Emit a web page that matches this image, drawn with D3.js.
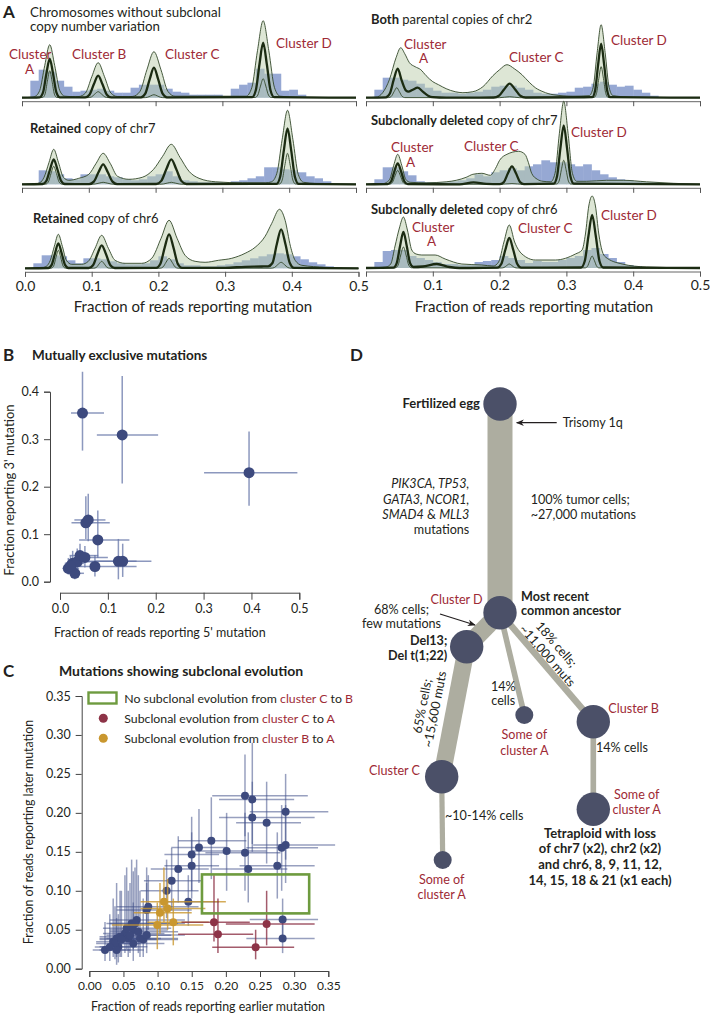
<!DOCTYPE html>
<html>
<head>
<meta charset="utf-8">
<script src="https://cdn.jsdelivr.net/npm/d3@7"></script>
<style>
  body { margin: 0; background: #fff; }
  svg { display: block; }
</style>
</head>
<body>
<svg id="fig" width="710" height="1015"></svg>
<script>
// ---- panel A : density knots [fraction, density] and histograms (bin width 0.0125) ----
const A_TICKS = [0, 0.1, 0.2, 0.3, 0.4, 0.5];
const BIN = 0.0125;

const L1_HIST = [0,17,28,26,17,11,6,7,8,9,7,5,5,10,13,13,13,9,6,5,3,3,3,3,1,9,13,15,29,24,24,7,8,3,0,0,0,0,0,0];
const L1_UP = [[0,0],[0.015,0.5],[0.019,1.1],[0.0265,7.2],[0.034,32],[0.0415,53],[0.049,32],[0.0565,7.2],[0.064,1.5],[0.08,1],[0.0855,1.2],[0.095,4.7],[0.1045,21],[0.114,35],[0.1235,21],[0.133,4.7],[0.1425,1.2],[0.16,1],[0.166,1.3],[0.1765,6.2],[0.187,28],[0.1975,46],[0.208,28],[0.2185,6.2],[0.229,1.5],[0.27,1.5],[0.3,1.5],[0.3355,1.5],[0.344,10],[0.3525,47],[0.361,77],[0.3695,47],[0.378,10],[0.3865,1.5],[0.41,0.5],[0.5,0]];
const L1_MED = [[0,0],[0.0265,0.4],[0.0315,5.3],[0.0365,24],[0.0415,39],[0.0465,24],[0.0515,5.3],[0.0565,0.4],[0.0945,0.3],[0.101,3],[0.1075,13.4],[0.114,22],[0.1205,13.4],[0.127,3],[0.1335,0.3],[0.178,0.3],[0.1845,4],[0.191,18],[0.1975,30],[0.204,18],[0.2105,4],[0.217,0.4],[0.3445,0.5],[0.35,7.4],[0.3555,33.5],[0.361,55],[0.3665,33.5],[0.372,7.4],[0.3775,0.5],[0.5,0]];
const L1_LOW = [[0,0],[0.031,0.3],[0.0345,3.6],[0.038,16.5],[0.0415,27],[0.045,16.5],[0.0485,3.6],[0.052,0.3],[0.099,0.1],[0.104,0.8],[0.109,3.7],[0.114,6],[0.119,3.7],[0.124,0.8],[0.129,0.1],[0.1825,0],[0.1875,0.4],[0.1925,1.8],[0.1975,3],[0.2025,1.8],[0.2075,0.4],[0.2125,0],[0.349,0.2],[0.353,2.6],[0.357,11.6],[0.361,19],[0.365,11.6],[0.369,2.6],[0.373,0.2],[0.5,0]];

const L2_HIST = [0,0,14,13,10,6,5,10,10,10,8,7,5,4,5,8,10,13,8,4,3,2,2,2,1,3,4,6,8,17,17,15,14,12,8,6,3,0,0,0];
const L2_UP = [[0,0],[0.02,0.5],[0.0265,1.5],[0.033,7],[0.0405,22],[0.0475,35],[0.0545,22],[0.062,7],[0.07,4],[0.085,6],[0.1,10],[0.111,21],[0.1215,31],[0.132,21],[0.143,8],[0.16,5],[0.18,7],[0.197,15],[0.2105,28],[0.2235,40],[0.2365,27],[0.25,13],[0.265,6],[0.29,2.5],[0.33,1.5],[0.365,1.5],[0.3735,2.5],[0.3815,11],[0.3895,45],[0.3975,74],[0.4055,45],[0.4135,10],[0.4215,2],[0.44,0.8],[0.5,0]];
const L2_MED = [[0,0],[0.031,0.3],[0.0365,3.4],[0.042,15],[0.0475,25],[0.053,15],[0.0585,3.4],[0.064,0.3],[0.1005,0.2],[0.1075,2.7],[0.1145,12],[0.1215,20],[0.1285,12],[0.1355,2.7],[0.1425,0.2],[0.201,0.3],[0.2085,3.4],[0.216,15],[0.2235,25],[0.231,15],[0.2385,3.4],[0.246,0.3],[0.381,0.5],[0.3865,7.6],[0.392,34],[0.3975,56],[0.403,34],[0.4085,7.6],[0.414,0.5],[0.5,0]];
const L2_LOW = [[0,0],[0.0355,0.2],[0.0395,2.4],[0.0435,11],[0.0475,18],[0.0515,11],[0.0555,2.4],[0.0595,0.2],[0.1035,0],[0.1095,0.3],[0.1155,1.2],[0.1215,2],[0.1275,1.2],[0.1335,0.3],[0.1395,0],[0.2055,0],[0.2115,0.3],[0.2175,1.2],[0.2235,2],[0.2295,1.2],[0.2355,0.3],[0.2415,0],[0.3855,0.3],[0.3895,4.2],[0.3935,19],[0.3975,31],[0.4015,19],[0.4055,4.2],[0.4095,0.3],[0.5,0]];

const L3_HIST = [0,5,13,13,12,8,5,10,10,9,7,5,4,4,5,8,12,9,5,3,3,2,2,3,4,6,8,10,12,14,15,14,12,9,6,4,2,1,0,0];
const L3_UP = [[0,0],[0.025,0.5],[0.032,2],[0.038,8],[0.044,22],[0.05,34],[0.056,22],[0.062,8],[0.07,4],[0.085,4],[0.095,7],[0.105,20],[0.115,33],[0.125,20],[0.135,8],[0.15,5],[0.175,5],[0.19,10],[0.204,30],[0.216,48],[0.228,30],[0.24,13],[0.255,7],[0.27,6],[0.29,8],[0.31,10],[0.33,15],[0.345,21],[0.36,32],[0.37,45],[0.3815,59],[0.39,48],[0.398,22],[0.405,8],[0.415,3],[0.45,1],[0.5,0]];
const L3_MED = [[0,0],[0.035,0.3],[0.04,3.4],[0.045,15],[0.05,25],[0.055,15],[0.06,3.4],[0.065,0.3],[0.0955,0.3],[0.102,3.1],[0.1085,14],[0.115,23],[0.1215,14],[0.128,3.1],[0.1345,0.3],[0.1965,0.4],[0.203,4.6],[0.2095,21],[0.216,34],[0.2225,21],[0.229,4.6],[0.2355,0.4],[0.3,0.5],[0.33,1.5],[0.355,1.8],[0.3645,2],[0.371,5.3],[0.3775,24],[0.384,39],[0.3905,24],[0.397,5.3],[0.4035,0.4],[0.5,0]];
const L3_LOW = [[0,0],[0.0395,0.2],[0.043,2.4],[0.0465,11],[0.05,18],[0.0535,11],[0.057,2.4],[0.0605,0.2],[0.103,0.1],[0.107,0.9],[0.111,4.3],[0.115,7],[0.119,4.3],[0.123,0.9],[0.127,0.1],[0.2025,0.1],[0.207,1.4],[0.2115,6.1],[0.216,10],[0.2205,6.1],[0.225,1.4],[0.2295,0.1],[0.369,0.1],[0.374,0.8],[0.379,3.7],[0.384,6],[0.389,3.7],[0.394,0.8],[0.399,0.1],[0.5,0]];

const R1_HIST = [0,8,20,20,18,17,14,10,7,5,5,4,5,6,8,11,12,12,10,8,5,4,4,5,6,10,11,14,16,13,11,12,8,5,2,0,0,0,0,0];
const R1_UP = [[0,0],[0.015,0.5],[0.025,5],[0.035,18],[0.045,40],[0.052,50],[0.058,44],[0.065,35],[0.0735,31],[0.082,28],[0.09,22],[0.1,16],[0.1085,13],[0.12,9],[0.1335,6],[0.145,5],[0.16,6],[0.175,11],[0.19,22],[0.2,28],[0.211,33],[0.222,29],[0.2335,23],[0.245,15],[0.2535,10],[0.265,6],[0.28,3],[0.31,1.5],[0.334,2],[0.34,10],[0.346,45],[0.352,73],[0.358,45],[0.364,10],[0.37,2],[0.4,0.5],[0.5,0]];
const R1_MED = [[0,0],[0.0295,0.3],[0.0355,3.9],[0.0415,18],[0.0475,29],[0.0535,17],[0.06,7],[0.0635,6],[0.07,8],[0.0775,10],[0.085,6],[0.093,2],[0.1,0.5],[0.12,0],[0.191,0.2],[0.199,1.9],[0.207,8.5],[0.215,14],[0.223,8.5],[0.231,1.9],[0.239,0.2],[0.3385,0.5],[0.343,7.3],[0.3475,33],[0.352,54],[0.3565,33],[0.361,7.3],[0.3655,0.5],[0.5,0]];
const R1_LOW = [[0,0],[0.034,0.1],[0.038,1.4],[0.042,6],[0.046,10],[0.05,6],[0.054,1.4],[0.058,0.1],[0.2,0],[0.215,1],[0.23,0],[0.3415,0.3],[0.345,4.2],[0.3485,19],[0.352,31],[0.3555,19],[0.359,4.2],[0.3625,0.3],[0.5,0]];

const R2_HIST = [0,5,17,17,13,9,3,2,2,2,3,4,6,10,8,12,14,16,14,18,20,24,22,22,20,18,20,14,10,7,5,4,3,2,2,1,0,0,0,0];
const R2_UP = [[0,0],[0.025,0.5],[0.0295,1.5],[0.0355,5],[0.0415,19],[0.0475,30],[0.0535,19],[0.0595,5],[0.066,2],[0.09,1.5],[0.12,2.5],[0.135,4],[0.15,7],[0.16,10],[0.1735,11],[0.186,9],[0.194,16],[0.2,24],[0.211,30],[0.2285,33],[0.238,30],[0.243,22],[0.248,11],[0.2565,5],[0.265,3],[0.2765,2.5],[0.283,11],[0.2895,51],[0.296,83],[0.3025,51],[0.309,11],[0.3155,3],[0.33,3],[0.36,4],[0.385,4],[0.42,2.5],[0.46,1],[0.5,0]];
const R2_MED = [[0,0],[0.0325,0.2],[0.0375,2.8],[0.0425,13],[0.0475,21],[0.0525,13],[0.0575,2.8],[0.0625,0.2],[0.14,0],[0.161,2],[0.18,0.5],[0.2005,0.2],[0.2065,2.4],[0.2125,11],[0.2185,18],[0.2245,11],[0.2305,2.4],[0.2365,0.2],[0.281,0.6],[0.286,8],[0.291,36],[0.296,59],[0.301,36],[0.306,8],[0.311,0.6],[0.5,0]];
const R2_LOW = [[0,0],[0.0355,0.2],[0.0395,1.9],[0.0435,8.5],[0.0475,14],[0.0515,8.5],[0.0555,1.9],[0.0595,0.2],[0.2,0],[0.2185,0.7],[0.235,0],[0.2855,0.3],[0.289,3.2],[0.2925,14.6],[0.296,24],[0.2995,14.6],[0.303,3.2],[0.3065,0.3],[0.5,0]];

const R3_HIST = [0,6,17,18,18,12,10,8,6,4,4,3,3,6,7,8,12,10,8,5,7,6,6,8,10,12,18,20,14,10,6,3,2,1,0,0,0,0,0,0];
const R3_UP = [[0,0],[0.03,1],[0.037,4],[0.0435,22],[0.05,40],[0.056,51],[0.062,38],[0.0685,18],[0.075,14],[0.0835,13],[0.1035,13],[0.1185,9],[0.1435,4],[0.1735,3],[0.1905,2],[0.1985,6],[0.2065,26],[0.2145,43],[0.2225,26],[0.2335,14],[0.2535,8],[0.2835,8],[0.3135,14],[0.3235,18],[0.3285,34],[0.3335,62],[0.3385,72],[0.3435,62],[0.3485,34],[0.3535,17],[0.3585,11],[0.3835,4],[0.42,1],[0.5,0]];
const R3_MED = [[0,0],[0.041,0.4],[0.046,4.9],[0.051,22],[0.056,36],[0.061,22],[0.066,4.9],[0.071,1],[0.085,1.5],[0.106,4],[0.125,1],[0.14,0],[0.1965,0.3],[0.2025,4],[0.2085,18],[0.2145,30],[0.2205,18],[0.2265,4],[0.2325,0.3],[0.322,0.5],[0.3275,7],[0.333,32],[0.3385,53],[0.344,32],[0.3495,7],[0.355,0.5],[0.5,0]];
const R3_LOW = [[0,0],[0.044,0.2],[0.048,2.8],[0.052,13],[0.056,21],[0.06,13],[0.064,2.8],[0.068,0.2],[0.2025,0],[0.2065,0.5],[0.2105,2.4],[0.2145,4],[0.2185,2.4],[0.2225,0.5],[0.2265,0],[0.328,0.1],[0.3315,1.6],[0.335,7.3],[0.3385,12],[0.342,7.3],[0.3455,1.6],[0.349,0.1],[0.5,0]];

// ---- panel B : mutually exclusive mutations ----
const B_X   = [0.047,0.130,0.395,0.054,0.059,0.079,0.122,0.131,0.073,0.0174,0.0265,0.031,0.036,0.0418,0.052,0.022];
const B_Y   = [0.355,0.309,0.2295,0.124,0.130,0.088,0.043,0.043,0.032,0.028,0.0386,0.0177,0.042,0.055,0.051,0.033];
const B_XLO = [0.023,0.077,0.301,0.024,0.030,0.040,0.073,0.055,0.028,0.005,0.010,0.015,0.015,0.020,0.030,0.008];
const B_XHI = [0.092,0.205,0.496,0.104,0.095,0.145,0.191,0.160,0.160,0.040,0.050,0.050,0.070,0.080,0.100,0.045];
const B_YLO = [0.276,0.207,0.160,0.090,0.085,0.050,0.005,0.010,0.011,0.015,0.020,0.005,0.020,0.035,0.030,0.015];
const B_YHI = [0.442,0.433,0.316,0.180,0.185,0.150,0.090,0.080,0.056,0.050,0.065,0.035,0.070,0.080,0.075,0.055];
const B_TICKS_X = [0, 0.1, 0.2, 0.3, 0.4, 0.5];
const B_TICKS_Y = [0, 0.1, 0.2, 0.3, 0.4];

// ---- panel C : mutations showing subclonal evolution ----
const C_BLUE_X   = [0.228,0.2387,0.2387,0.2875,0.2597,0.1787,0.1606,0.2011,0.1499,0.228,0.2817,0.2875,0.1499,0.1303,0.2328,0.2753,0.1206,0.1132,0.145,0.0864,0.2831,0.2831,0.023,0.035,0.040,0.0425,0.0376,0.0522,0.0547,0.062,0.0644,0.0693,0.0742,0.079,0.084,0.0644,0.057,0.045,0.084,0.030,0.047,0.0596,0.0718,0.040,0.0669];
const C_BLUE_Y   = [0.222,0.2173,0.194,0.2015,0.1873,0.1642,0.1557,0.151,0.1467,0.1488,0.1553,0.1587,0.1322,0.1279,0.1279,0.1322,0.1129,0.1001,0.086,0.0796,0.0633,0.0389,0.024,0.0346,0.0389,0.0282,0.0325,0.0453,0.0518,0.058,0.0496,0.0624,0.0389,0.0376,0.0432,0.0325,0.0389,0.041,0.0753,0.028,0.0376,0.043,0.0475,0.024,0.058];
const C_BLUE_XLO = [0.18,0.19,0.19,0.235,0.215,0.13,0.12,0.15,0.11,0.17,0.23,0.24,0.11,0.09,0.18,0.22,0.08,0.075,0.105,0.04,0.235,0.23,0.005,0.01,0.015,0.015,0.01,0.02,0.02,0.025,0.03,0.03,0.035,0.04,0.045,0.03,0.025,0.015,0.04,0.008,0.015,0.025,0.03,0.015,0.03];
const C_BLUE_XHI = [0.32,0.30,0.33,0.35,0.31,0.23,0.20,0.26,0.19,0.28,0.335,0.36,0.19,0.175,0.29,0.33,0.165,0.16,0.19,0.16,0.335,0.33,0.06,0.08,0.09,0.085,0.075,0.11,0.12,0.13,0.115,0.14,0.13,0.13,0.14,0.11,0.105,0.09,0.15,0.07,0.10,0.12,0.13,0.08,0.14];
const C_BLUE_YLO = [0.17,0.16,0.15,0.14,0.135,0.115,0.11,0.10,0.10,0.10,0.10,0.11,0.09,0.085,0.085,0.09,0.075,0.065,0.055,0.05,0.04,0.02,0.01,0.015,0.015,0.008,0.012,0.02,0.025,0.03,0.025,0.035,0.015,0.015,0.02,0.01,0.015,0.015,0.045,0.01,0.015,0.02,0.02,0.005,0.03];
const C_BLUE_YHI = [0.275,0.29,0.24,0.25,0.24,0.22,0.205,0.20,0.195,0.20,0.21,0.21,0.175,0.17,0.175,0.175,0.155,0.14,0.12,0.12,0.09,0.06,0.06,0.09,0.11,0.07,0.08,0.12,0.13,0.14,0.125,0.14,0.10,0.09,0.11,0.085,0.10,0.10,0.13,0.07,0.10,0.11,0.12,0.065,0.13];

const C_GOLD_X   = [0.1093,0.1035,0.1147,0.123,0.0996];
const C_GOLD_Y   = [0.086,0.0719,0.0774,0.0595,0.056];
const C_GOLD_XLO = [0.075,0.065,0.075,0.085,0.033];
const C_GOLD_XHI = [0.20,0.15,0.17,0.175,0.167];
const C_GOLD_YLO = [0.06,0.045,0.05,0.03,0.025];
const C_GOLD_YHI = [0.13,0.11,0.115,0.09,0.085];

const C_RED_X   = [0.1826,0.1884,0.2597,0.2436];
const C_RED_Y   = [0.0595,0.0441,0.0573,0.0274];
const C_RED_XLO = [0.135,0.13,0.20,0.18];
const C_RED_XHI = [0.235,0.24,0.33,0.30];
const C_RED_YLO = [0.035,0.02,0.03,0.012];
const C_RED_YHI = [0.12,0.09,0.10,0.05];

const C_BOX = [0.165, 0.322, 0.071, 0.121];   // earlier x0,x1 / later y0,y1
const C_TICKS = [0, 0.05, 0.1, 0.15, 0.2, 0.25, 0.3, 0.35];

// ---- panel D : phylogeny (edge = parent, child, % cells) ----
const D_EDGES = [['egg','mrca',100],['mrca','del13',68],['del13','clC',65],['mrca','aMid',14],['mrca','clB',18],['clB','aRight',14],['clC','aLeft',12]];

// ------------------------------------------------------------------
const svg = d3.select('#fig');
const FONT = "Lato, 'Open Sans', sans-serif";
const INK = '#231f20';
const RED = '#9e2a35';
svg.style('font-family', FONT);

function txt(x, y, parts, o = {}) {
  const t = svg.append('text').attr('x', x).attr('y', y).attr('dy', '0.35em')
    .attr('font-size', o.size || 12).attr('text-anchor', o.anchor || 'start')
    .attr('fill', o.fill || INK);
  if (o.rotate != null) t.attr('transform', `rotate(${o.rotate},${x},${y})`);
  const list = typeof parts === 'string' ? [[parts, '']] : parts;
  list.forEach(p => {
    const s = t.append('tspan').text(p[0]);
    const f = p[1] || '';
    if (f.includes('b')) s.attr('font-weight', 700);
    if (f.includes('i')) s.attr('font-style', 'italic');
    if (f.includes('r')) s.attr('fill', RED);
  });
  return t;
}

// ---------------- A ----------------
const A_PANELS = [
  { hist: L1_HIST, up: L1_UP, med: L1_MED, low: L1_LOW, x0: 22, x1: 356, base: 97.7 },
  { hist: L2_HIST, up: L2_UP, med: L2_MED, low: L2_LOW, x0: 22, x1: 356, base: 184.3 },
  { hist: L3_HIST, up: L3_UP, med: L3_MED, low: L3_LOW, x0: 25, x1: 358.5, base: 268.3, labels: true },
  { hist: R1_HIST, up: R1_UP, med: R1_MED, low: R1_LOW, x0: 366, x1: 700, base: 97.7 },
  { hist: R2_HIST, up: R2_UP, med: R2_MED, low: R2_LOW, x0: 366, x1: 700, base: 184.3 },
  { hist: R3_HIST, up: R3_UP, med: R3_MED, low: R3_LOW, x0: 366, x1: 700, base: 268, labels: true, hideZero: true },
];

function drawDensity(p) {
  const x = d3.scaleLinear([0, 0.5], [p.x0, p.x1]);
  const y = d3.scaleLinear([0, 80], [p.base, p.base - 80]);
  const g = svg.append('g');
  g.selectAll('rect').data(p.hist.map((h, i) => ({ i, h })).filter(d => d.h > 0)).join('rect')
    .attr('x', d => x(d.i * BIN)).attr('width', x(BIN) - x(0) + 0.4)
    .attr('y', d => y(d.h)).attr('height', d => y(0) - y(d.h))
    .attr('fill', '#96a8d3');
  g.append('path').datum(p.up)
    .attr('d', d3.area().curve(d3.curveMonotoneX).x(d => x(d[0])).y0(y(0)).y1(d => y(d[1])))
    .attr('fill', '#bccdab').attr('fill-opacity', 0.5);
  const line = d3.line().curve(d3.curveMonotoneX).x(d => x(d[0])).y(d => y(d[1]));
  [p.up, p.low].forEach(c => g.append('path').datum(c).attr('d', line)
    .attr('fill', 'none').attr('stroke', '#33482a').attr('stroke-width', 0.9));
  g.append('path').datum(p.med).attr('d', line)
    .attr('fill', 'none').attr('stroke', '#1b2b12').attr('stroke-width', 2.3);

  const fmt = d3.format('.1f');
  const ax = g.append('g').attr('transform', `translate(0,${p.base + 3.5})`)
    .call(d3.axisBottom(x).tickValues(A_TICKS).tickSize(5).tickPadding(4)
      .tickFormat(d => p.labels && !(p.hideZero && d === 0) ? fmt(d) : ''));
  ax.select('.domain').attr('stroke', '#666');
  ax.selectAll('.tick line').attr('stroke', '#555');
  ax.selectAll('text').attr('font-size', 14).attr('font-family', FONT).attr('fill', INK);
}
A_PANELS.forEach(drawDensity);

const AT = { size: 13 };
txt(3, 12, 'A', { size: 17 }).attr('font-weight', 700);
txt(30, 12, 'Chromosomes without subclonal', { size: 13.3 });
txt(30, 26.5, 'copy number variation', { size: 13.3 });
txt(30, 128, [['Retained', 'b'], [' copy of chr7', '']], AT);
txt(33, 218, [['Retained', 'b'], [' copy of chr6', '']], AT);
txt(371, 19, [['Both', 'b'], [' parental copies of chr2', '']], AT);
txt(371, 120, [['Subclonally deleted', 'b'], [' copy of chr7', '']], AT);
txt(371, 209, [['Subclonally deleted', 'b'], [' copy of chr6', '']], AT);

const CL = { size: 13.5, fill: RED };
txt(9, 54, 'Cluster', CL); txt(25, 69, 'A', CL);
txt(72, 54, 'Cluster B', CL); txt(165, 54, 'Cluster C', CL); txt(276, 43, 'Cluster D', CL);
txt(404, 44, 'Cluster', CL); txt(419, 58, 'A', CL);
txt(509, 57, 'Cluster C', CL); txt(611, 40, 'Cluster D', CL);
txt(391, 147, 'Cluster', CL); txt(406, 162, 'A', CL);
txt(464, 146, 'Cluster C', CL); txt(571, 132, 'Cluster D', CL);
txt(412, 227, 'Cluster', CL); txt(427, 241, 'A', CL);
txt(518, 228, 'Cluster C', CL); txt(601, 215, 'Cluster D', CL);

txt(193, 307, 'Fraction of reads reporting mutation', { size: 15, anchor: 'middle' });
txt(534, 307, 'Fraction of reads reporting mutation', { size: 15, anchor: 'middle' });

// ---------------- helpers for B / C ----------------
function points(xs, ys, xlo, xhi, ylo, yhi) {
  return xs.map((v, i) => ({ x: v, y: ys[i], x0: xlo[i], x1: xhi[i], y0: ylo[i], y1: yhi[i] }));
}
function drawErr(g, data, sx, sy, color, op, r, fill) {
  const e = g.append('g').attr('stroke', color).attr('stroke-opacity', op).attr('stroke-width', 1.5);
  e.selectAll('line.h').data(data).join('line').attr('class', 'h')
    .attr('x1', d => sx(d.x0)).attr('x2', d => sx(d.x1)).attr('y1', d => sy(d.y)).attr('y2', d => sy(d.y));
  e.selectAll('line.v').data(data).join('line').attr('class', 'v')
    .attr('x1', d => sx(d.x)).attr('x2', d => sx(d.x)).attr('y1', d => sy(d.y0)).attr('y2', d => sy(d.y1));
  g.append('g').selectAll('circle').data(data).join('circle')
    .attr('cx', d => sx(d.x)).attr('cy', d => sy(d.y)).attr('r', r).attr('fill', fill);
}
function styleAxis(ax, size) {
  ax.select('.domain').attr('stroke', '#444');
  ax.selectAll('.tick line').attr('stroke', '#444');
  ax.selectAll('text').attr('font-size', size).attr('font-family', FONT).attr('fill', INK);
}

// ---------------- B ----------------
txt(3, 355, 'B', { size: 17 }).attr('font-weight', 700);
txt(32, 355, 'Mutually exclusive mutations', { size: 13.5 }).attr('font-weight', 700);
const bx = d3.scaleLinear([0, 0.5], [60, 299.3]);
const by = d3.scaleLinear([0, 0.4], [581.7, 391.7]);
styleAxis(svg.append('g').attr('transform', 'translate(50,0)')
  .call(d3.axisLeft(by).tickValues(B_TICKS_Y).tickFormat(d3.format('.1f')).tickSize(6).tickPadding(5)), 12.5);
styleAxis(svg.append('g').attr('transform', 'translate(0,592.7)')
  .call(d3.axisBottom(bx).tickValues(B_TICKS_X).tickFormat(d3.format('.1f')).tickSize(7).tickPadding(4)), 12.5);
drawErr(svg.append('g'), points(B_X, B_Y, B_XLO, B_XHI, B_YLO, B_YHI), bx, by, '#6676a8', 0.75, 5.5, '#3d4a7e');
txt(54, 633, "Fraction of reads reporting 5' mutation", { size: 12.5 });
txt(9, 490, "Fraction reporting 3' mutation", { size: 13, anchor: 'middle', rotate: -90 });

// ---------------- C ----------------
txt(3, 671, 'C', { size: 17 }).attr('font-weight', 700);
txt(59, 671, 'Mutations showing subclonal evolution', { size: 14 }).attr('font-weight', 700);
const cx = d3.scaleLinear([0, 0.35], [89.3, 328.3]);
const cy = d3.scaleLinear([0, 0.35], [968.7, 696]);
styleAxis(svg.append('g').attr('transform', 'translate(81.7,0)')
  .call(d3.axisLeft(cy).tickValues(C_TICKS).tickFormat(d3.format('.2f')).tickSize(6).tickPadding(5)), 12.5);
styleAxis(svg.append('g').attr('transform', 'translate(0,971)')
  .call(d3.axisBottom(cx).tickValues(C_TICKS).tickFormat(d3.format('.2f')).tickSize(6).tickPadding(4)), 12);
const gC = svg.append('g');
drawErr(gC, points(C_BLUE_X, C_BLUE_Y, C_BLUE_XLO, C_BLUE_XHI, C_BLUE_YLO, C_BLUE_YHI), cx, cy, '#44528a', 0.55, 4, '#3d4a7e');
drawErr(gC, points(C_GOLD_X, C_GOLD_Y, C_GOLD_XLO, C_GOLD_XHI, C_GOLD_YLO, C_GOLD_YHI), cx, cy, '#c9972f', 0.8, 4, '#c9972f');
drawErr(gC, points(C_RED_X, C_RED_Y, C_RED_XLO, C_RED_XHI, C_RED_YLO, C_RED_YHI), cx, cy, '#8d3347', 0.8, 4, '#8d3347');
gC.append('rect').attr('x', cx(C_BOX[0])).attr('y', cy(C_BOX[3]))
  .attr('width', cx(C_BOX[1]) - cx(C_BOX[0])).attr('height', cy(C_BOX[2]) - cy(C_BOX[3]))
  .attr('fill', 'none').attr('stroke', '#6e9b3f').attr('stroke-width', 2.6);

// legend
svg.append('rect').attr('x', 88.5).attr('y', 692.5).attr('width', 28).attr('height', 11)
  .attr('fill', 'none').attr('stroke', '#6e9b3f').attr('stroke-width', 2.4);
svg.append('circle').attr('cx', 103.3).attr('cy', 718.3).attr('r', 4.5).attr('fill', '#8d3347');
svg.append('circle').attr('cx', 103.3).attr('cy', 738.3).attr('r', 4.5).attr('fill', '#c9972f');
const LG = { size: 12.3 };
txt(124.3, 698.3, [['No subclonal evolution from ', ''], ['cluster C', 'r'], [' to ', ''], ['B', 'r']], LG);
txt(124.3, 718.3, [['Subclonal evolution from ', ''], ['cluster C', 'r'], [' to ', ''], ['A', 'r']], LG);
txt(124.3, 738.3, [['Subclonal evolution from ', ''], ['cluster B', 'r'], [' to ', ''], ['A', 'r']], LG);
txt(208, 1006.5, 'Fraction of reads reporting earlier mutation', { size: 12.4, anchor: 'middle' });
txt(29, 832, 'Fraction of reads reporting later mutation', { size: 12.4, anchor: 'middle', rotate: -90 });

// ---------------- D ----------------
txt(350, 355, 'D', { size: 17 }).attr('font-weight', 700);
const tx = d3.scaleLinear([0, 350], [360, 710]);
const ty = d3.scaleLinear([0, 520], [380, 900]);
const layout = {
  egg: [140, 24, 16.7], mrca: [140, 232.7, 16.7], del13: [106.7, 266.7, 16.7],
  clC: [81.7, 396.7, 16.7], aLeft: [82.7, 480, 9], aMid: [164.3, 335, 9],
  clB: [233.3, 341.7, 16.7], aRight: [233.3, 429.3, 16.7]
};
const width = d3.scaleLinear([0, 100], [2.5, 25]);
svg.append('g').selectAll('line').data(D_EDGES).join('line')
  .attr('x1', d => tx(layout[d[0]][0])).attr('y1', d => ty(layout[d[0]][1]))
  .attr('x2', d => tx(layout[d[1]][0])).attr('y2', d => ty(layout[d[1]][1]))
  .attr('stroke', '#adada0').attr('stroke-width', d => width(d[2]));
svg.append('g').selectAll('circle').data(Object.values(layout)).join('circle')
  .attr('cx', d => tx(d[0])).attr('cy', d => ty(d[1])).attr('r', d => d[2]).attr('fill', '#4b5068');

const defs = svg.append('defs');
defs.append('marker').attr('id', 'arr').attr('viewBox', '0 0 10 10').attr('refX', 9).attr('refY', 5)
  .attr('markerWidth', 8).attr('markerHeight', 8).attr('markerUnits', 'userSpaceOnUse').attr('orient', 'auto')
  .append('path').attr('d', 'M0,1 L10,5 L0,9 L3,5 Z').attr('fill', INK);
svg.append('line').attr('x1', 556.7).attr('y1', 422.7).attr('x2', 516.7).attr('y2', 422.7)
  .attr('stroke', INK).attr('stroke-width', 1.3).attr('marker-end', 'url(#arr)');
svg.append('line').attr('x1', 440).attr('y1', 614).attr('x2', 475).attr('y2', 625)
  .attr('stroke', INK).attr('stroke-width', 1.3).attr('marker-end', 'url(#arr)');

const DS = 12.6;
const D_ = (o = {}) => Object.assign({ size: DS }, o);
txt(480, 403, 'Fertilized egg', D_({ anchor: 'end', size: 13 })).attr('font-weight', 700);
txt(562.7, 422.7, 'Trisomy 1q', D_());
txt(469.3, 484, [['PIK3CA, TP53,', 'i']], D_({ anchor: 'end' }));
txt(469.3, 499.3, [['GATA3, NCOR1,', 'i']], D_({ anchor: 'end' }));
txt(469.3, 514.3, [['SMAD4', 'i'], [' & ', ''], ['MLL3', 'i']], D_({ anchor: 'end' }));
txt(469.3, 530, 'mutations', D_({ anchor: 'end' }));
txt(530.7, 499.3, '100% tumor cells;', D_());
txt(530.7, 514.3, '~27,000 mutations', D_());

txt(482.7, 599.3, 'Cluster D', D_({ anchor: 'end', fill: RED }));
txt(521, 596.3, 'Most recent', D_()).attr('font-weight', 700);
txt(521, 610.7, 'common ancestor', D_()).attr('font-weight', 700);
txt(401.5, 609.8, '68% cells;', D_({ anchor: 'middle' }));
txt(401.5, 623.8, 'few mutations', D_({ anchor: 'middle' }));
txt(447.3, 640.3, 'Del13;', D_({ anchor: 'end' })).attr('font-weight', 700);
txt(447.3, 655.7, 'Del t(1;22)', D_({ anchor: 'end' })).attr('font-weight', 700);
txt(422.2, 706, '65% cells;', D_({ anchor: 'middle', rotate: -79 }));
txt(434.7, 709.3, '~15,600 muts', D_({ anchor: 'middle', rotate: -79 }));
txt(556.5, 644.5, '18% cells;', D_({ anchor: 'middle', rotate: 49 }));
txt(547.5, 655.5, '~11,000 muts', D_({ anchor: 'middle', rotate: 49 }));
txt(503.3, 686.5, '14%', D_({ anchor: 'middle' }));
txt(503.3, 700.8, 'cells', D_({ anchor: 'middle' }));
txt(524.3, 735, 'Some of', D_({ anchor: 'middle', fill: RED }));
txt(524.3, 750.7, 'cluster A', D_({ anchor: 'middle', fill: RED }));
txt(608.3, 708.7, 'Cluster B', D_({ fill: RED }));
txt(596, 747.7, '14% cells', D_());
txt(420, 771, 'Cluster C', D_({ anchor: 'end', fill: RED }));
txt(445, 816, '~10-14% cells', D_());
txt(441.7, 879.3, 'Some of', D_({ anchor: 'middle', fill: RED }));
txt(441.7, 895, 'cluster A', D_({ anchor: 'middle', fill: RED }));
txt(636.7, 795, 'Some of', D_({ anchor: 'middle', fill: RED }));
txt(636.7, 810, 'cluster A', D_({ anchor: 'middle', fill: RED }));
[['Tetraploid with loss', 833.3], ['of chr7 (x2), chr2 (x2)', 848.7],
 ['and chr6, 8, 9, 11, 12,', 864.3], ['14, 15, 18 & 21 (x1 each)', 880]]
  .forEach(l => txt(600, l[1], l[0], D_({ anchor: 'middle', size: 13 })).attr('font-weight', 700));
</script>
</body>
</html>
